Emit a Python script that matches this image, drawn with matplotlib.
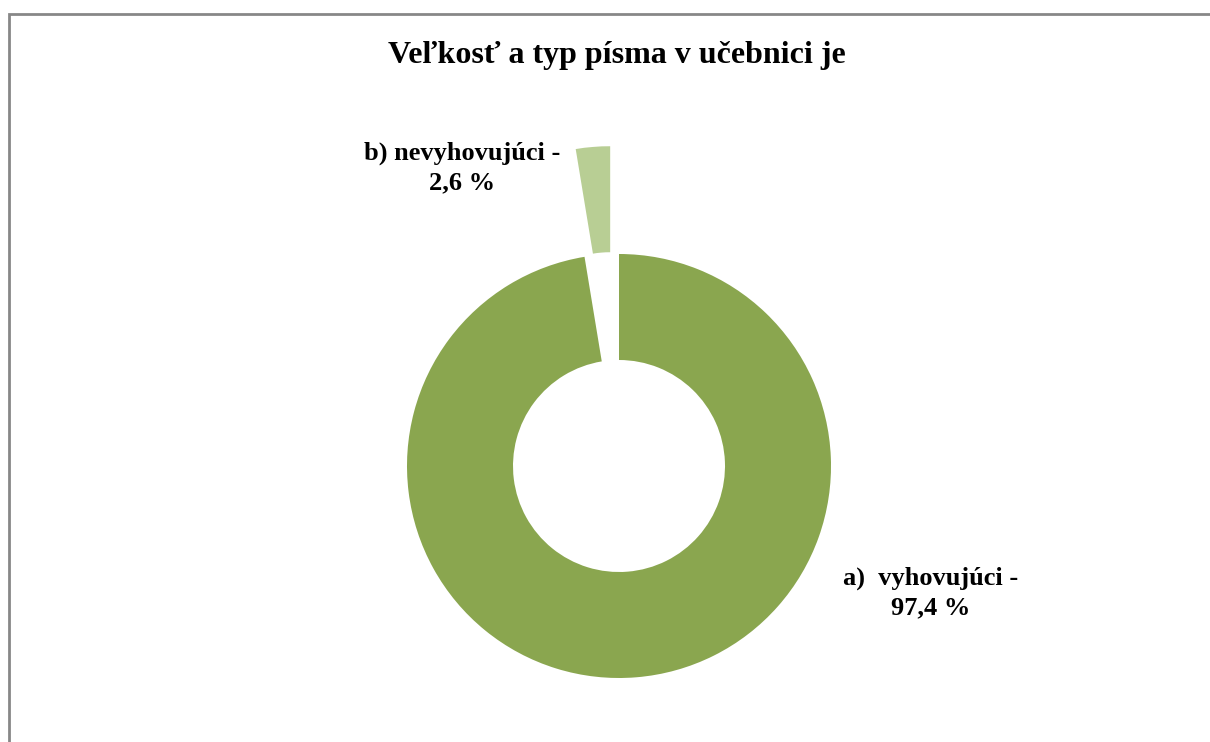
import matplotlib
matplotlib.use("Agg")
import matplotlib.pyplot as plt
from matplotlib.patches import Rectangle

# data
labels = ["a)  vyhovujúci -\n97,4 %", "b) nevyhovujúci -\n2,6 %"]
shares = [97.4, 2.6]
colors = ["#8AA64F", "#B8CE94"]
explode = [0, 0.51]
title = "Veľkosť a typ písma v učebnici je"

W, H = 1210, 742
fig = plt.figure(figsize=(W / 100, H / 100), dpi=100)
plt.rcParams['font.family'] = ['Liberation Serif', 'DejaVu Serif']

# frame line (top and left visible)
fig.patches.append(Rectangle((8.5 / W, -0.1), 1.2, (H - 13.5) / H + 0.1,
                             transform=fig.transFigure, fill=False,
                             edgecolor="#878787", linewidth=2.0))

# donut: center (619, 466) px from top, outer radius 212 px
cx, cy, r_px = 619, 466, 212
side = 760
ax = fig.add_axes([(cx - side / 2) / W, (H - cy - side / 2) / H, side / W, side / H])
lim = side / 2 / r_px
ax.pie(shares, colors=colors, explode=explode, startangle=90, counterclock=False,
       radius=1, wedgeprops=dict(width=0.5, linewidth=0))
ax.set_xlim(-lim, lim)
ax.set_ylim(-lim, lim)
ax.set_aspect("equal")
ax.axis("off")

fig.text(617 / W, 1 - 55 / H, title, ha="center", va="center",
         fontsize=23, fontweight="bold")
fig.text(931 / W, 1 - 593 / H, labels[0], ha="center", va="center",
         multialignment="center", fontsize=19, fontweight="bold", linespacing=1.33)
fig.text(462 / W, 1 - 168 / H, labels[1], ha="center", va="center",
         multialignment="center", fontsize=19, fontweight="bold", linespacing=1.33)

fig.savefig("out.png", dpi=100)
